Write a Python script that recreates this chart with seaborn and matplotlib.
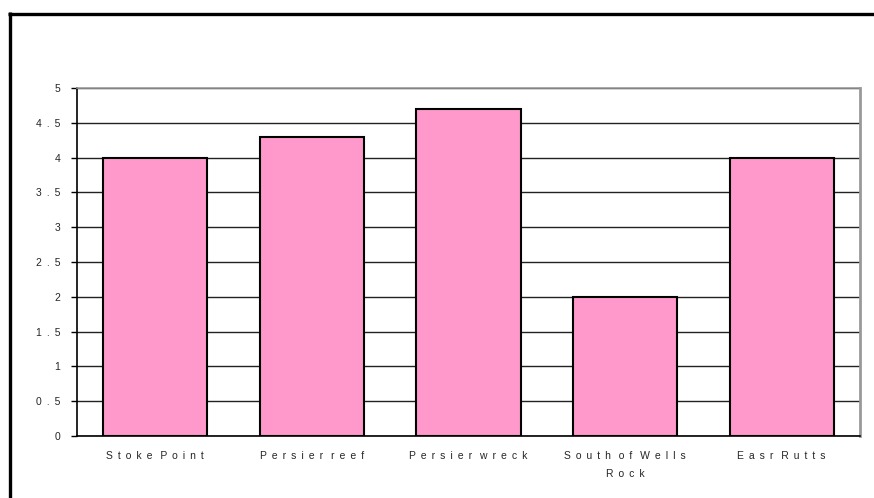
import matplotlib
matplotlib.use("Agg")
import matplotlib.pyplot as plt
from matplotlib.lines import Line2D
import seaborn as sns
import pandas as pd

# Sites and their values
sites = ["Stoke Point", "Persier reef", "Persier wreck", "South of Wells\nRock", "Easr Rutts"]
values = [4.0, 4.3, 4.7, 2.0, 4.0]
y_ticks = [0, 0.5, 1, 1.5, 2, 2.5, 3, 3.5, 4, 4.5, 5]

GAP = " \u2009"


def spaced(text):
    """Spread the letters of a label apart, line by line, keeping word breaks."""
    lines = []
    for line in text.split("\n"):
        words = [GAP.join(w) for w in line.split(" ")]
        lines.append((GAP + " ").join(words))
    return "\n".join(lines)


sns.set_style("white")
plt.rcParams["font.family"] = ["Liberation Sans", "DejaVu Sans"]

df = pd.DataFrame({"site": sites, "value": values})

fig = plt.figure(figsize=(8.74, 4.98), dpi=100)
ax = fig.add_axes([77 / 874, 62 / 498, 783 / 874, 348 / 498])

sns.barplot(data=df, x="site", y="value", ax=ax, color="#FF99CC",
            saturation=1, width=0.665, edgecolor="black", linewidth=1.5)

ax.set_xlim(-0.5, 4.5)
ax.set_ylim(0, 5)
ax.set_yticks(y_ticks)
ax.set_yticklabels([spaced(f"{t:g}") for t in y_ticks])
ax.set_xticks(range(len(sites)))
ax.set_xticklabels([spaced(s) for s in sites], linespacing=2.0)
ax.set_xlabel("")
ax.set_ylabel("")

ax.tick_params(axis="y", length=4, width=1, color="black", pad=8,
               labelsize=7.5, left=True)
ax.tick_params(axis="x", length=0, pad=11, labelsize=7.5)

# Horizontal gridlines at each half step, behind the bars
ax.set_axisbelow(True)
ax.yaxis.grid(True, color="#222222", linewidth=1)
ax.xaxis.grid(False)

for side in ["left", "bottom"]:
    ax.spines[side].set_color("black")
    ax.spines[side].set_linewidth(1.2)
ax.spines["right"].set_color("#999999")
ax.spines["right"].set_linewidth(2)
ax.spines["top"].set_color("#999999")
ax.spines["top"].set_linewidth(1.2)

# Outer chart frame (left and top edges)
frame = dict(transform=fig.transFigure, color="black", linewidth=2.4,
             solid_capstyle="butt")
fig.add_artist(Line2D([9.5 / 874, 9.5 / 874], [0, 1 - 12.5 / 498], **frame))
fig.add_artist(Line2D([8 / 874, 1], [1 - 14 / 498, 1 - 14 / 498], **frame))

fig.savefig("out.png", dpi=100, facecolor="white")
